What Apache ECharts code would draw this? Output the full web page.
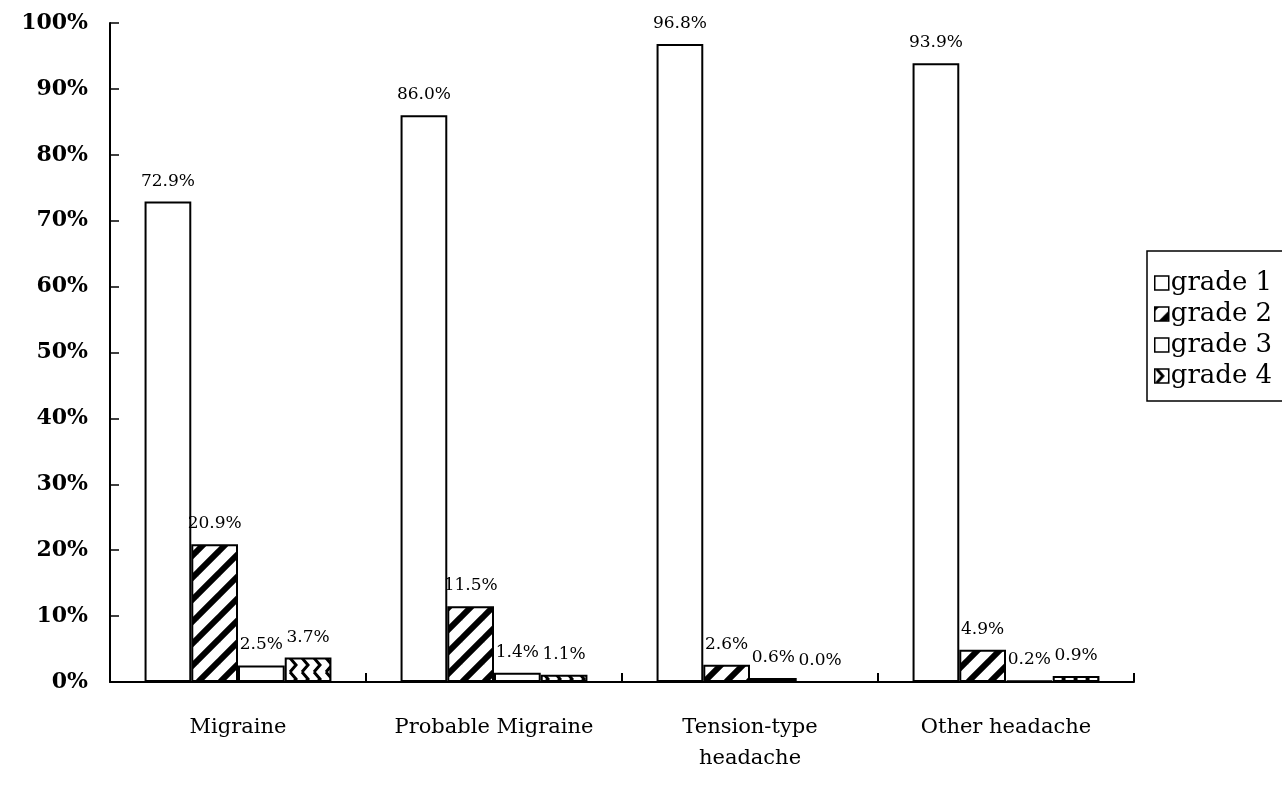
<!DOCTYPE html>
<html>
<head>
<meta charset="utf-8">
<script src="https://cdn.jsdelivr.net/npm/echarts@6/dist/echarts.min.js"></script>
<style>
  html, body { margin: 0; padding: 0; background: #fff; }
  #chart { width: 1282px; height: 787px; }
</style>
</head>
<body>
<div id="chart"></div>
<script>
// Headache types and the share of each disability grade (percent)
const categories = ['Migraine', 'Probable Migraine', 'Tension-type\nheadache', 'Other headache'];
const seriesNames = ['grade 1', 'grade 2', 'grade 3', 'grade 4'];
const grade1 = [72.9, 86.0, 96.8, 93.9];
const grade2 = [20.9, 11.5, 2.6, 4.9];
const grade3 = [2.5, 1.4, 0.6, 0.2];
const grade4 = [3.7, 1.1, 0.0, 0.9];
const yTicks = [0, 10, 20, 30, 40, 50, 60, 70, 80, 90, 100];

// Fill patterns drawn on small canvases
function stripeTile() {
  const s = 22;
  const c = document.createElement('canvas');
  c.width = s; c.height = s;
  const g = c.getContext('2d');
  g.fillStyle = '#fff'; g.fillRect(0, 0, s, s);
  g.strokeStyle = '#000'; g.lineWidth = 6; g.lineCap = 'square';
  for (const o of [-s, 0, s]) {
    g.beginPath();
    g.moveTo(o, s); g.lineTo(o + s, 0);
    g.stroke();
  }
  return c;
}
function chevronTile() {
  const w = 12, h = 14;
  const c = document.createElement('canvas');
  c.width = w; c.height = h;
  const g = c.getContext('2d');
  g.fillStyle = '#fff'; g.fillRect(0, 0, w, h);
  g.strokeStyle = '#000'; g.lineWidth = 3;
  g.beginPath();
  g.moveTo(2, 0); g.lineTo(8, h / 2); g.lineTo(2, h);
  g.stroke();
  return c;
}

const fills = [
  '#ffffff',
  { image: stripeTile(), repeat: 'repeat' },
  '#ffffff',
  { image: chevronTile(), repeat: 'repeat' }
];
const values = [grade1, grade2, grade3, grade4];

const serif = '"DejaVu Serif", "Liberation Serif", serif';

const series = seriesNames.map((name, i) => ({
  name: name,
  type: 'bar',
  data: values[i],
  barGap: '0%',
  barCategoryGap: '27%',
  itemStyle: { color: fills[i], borderColor: '#000', borderWidth: 2 },
  label: {
    show: true,
    position: 'top',
    distance: 12,
    color: '#000',
    fontFamily: serif,
    fontSize: 17,
    formatter: p => p.value.toFixed(1) + '%'
  }
}));

const chart = echarts.init(document.getElementById('chart'), null, { renderer: 'canvas' });
chart.setOption({
  animation: false,
  backgroundColor: '#fff',
  grid: { left: 110, right: 148, top: 23, bottom: 105, containLabel: false },
  legend: {
    data: seriesNames,
    orient: 'vertical',
    left: 1147,
    top: 251,
    icon: 'rect',
    itemWidth: 14,
    itemHeight: 14,
    itemGap: 5,
    padding: [19, 40, 12, 7],
    borderColor: '#000',
    borderWidth: 1.5,
    itemStyle: { borderColor: '#000', borderWidth: 1.5 },
    textStyle: { fontFamily: serif, fontSize: 26, color: '#000', padding: [0, 0, 0, -3] }
  },
  xAxis: {
    type: 'category',
    data: categories,
    axisLine: { lineStyle: { color: '#000', width: 2 } },
    axisTick: { show: true, inside: true, length: 9, lineStyle: { color: '#000', width: 2 } },
    axisLabel: { interval: 0, fontFamily: serif, fontSize: 21, color: '#000', margin: 30, lineHeight: 31 }
  },
  yAxis: {
    type: 'value',
    min: yTicks[0],
    max: yTicks[yTicks.length - 1],
    interval: 10,
    axisLine: { show: true, lineStyle: { color: '#000', width: 2 } },
    axisTick: { show: true, inside: true, length: 9, lineStyle: { color: '#000', width: 1.5 } },
    splitLine: { show: false },
    axisLabel: {
      fontFamily: serif, fontSize: 22, fontWeight: 'bold', color: '#000', margin: 22,
      formatter: v => v + '%'
    }
  },
  series: series
});
</script>
</body>
</html>
